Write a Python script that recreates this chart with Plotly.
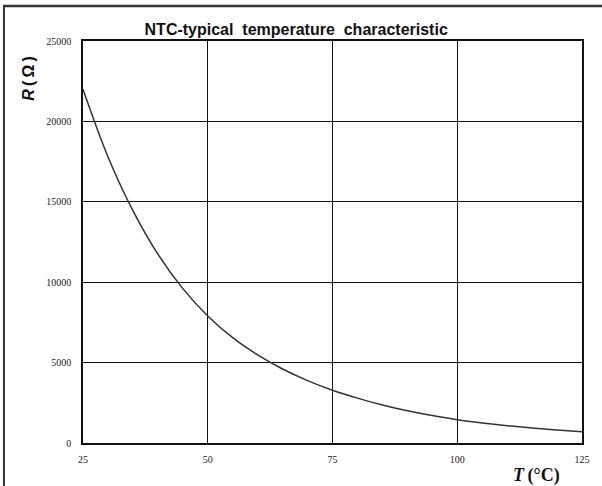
import plotly.graph_objects as go

temperature_c = [25, 30, 35, 40, 45, 50, 55, 60, 65, 70, 75, 80, 85, 90, 95,
                 100, 105, 110, 115, 120, 125]
resistance_ohm = [22000, 17800, 14450, 11750, 9600, 7900, 6550, 5480, 4600, 3880,
                  3280, 2790, 2360, 2000, 1705, 1450, 1250, 1080, 935, 810, 705]

x_ticks = [25, 50, 75, 100, 125]
y_ticks = [0, 5000, 10000, 15000, 20000, 25000]
y_tick_labels = ["0", "5000", "10000", "15000", "20000", "25000"]
x_tick_labels = ["25", "50", "75", "100", "125"]

W, H = 602, 486
L, R, T, B = 83, 17, 41, 43
PW, PH = W - L - R, H - T - B


def px(x):
    return (x - L) / PW


def py(y):
    return (H - B - y) / PH


fig = go.Figure()
fig.add_trace(go.Scatter(
    x=temperature_c, y=resistance_ohm, mode="lines",
    line=dict(color="#333333", width=1.5, shape="spline", smoothing=1.0),
    showlegend=False, hoverinfo="skip",
))

axis_common = dict(
    showgrid=True, gridcolor="#111111", gridwidth=1.4,
    showline=True, linecolor="#111111", linewidth=1.6, mirror=True,
    zeroline=False, ticks="",
    tickfont=dict(family="Liberation Serif", size=10, color="#222222"),
)

fig.update_layout(
    width=W, height=H,
    paper_bgcolor="white", plot_bgcolor="white",
    margin=dict(l=L, r=R, t=T, b=B),
    title=dict(text="<b>NTC-typical  temperature  characteristic</b>",
               x=0.492, xanchor="center", y=(H - 29) / H, yanchor="middle",
               font=dict(family="Liberation Sans", size=16, color="#111111")),
    xaxis=dict(range=[25, 125], tickvals=x_ticks, ticktext=x_tick_labels,
               ticklabelstandoff=6, **axis_common),
    yaxis=dict(range=[0, 25000], tickvals=y_ticks, ticktext=y_tick_labels,
               ticklabelstandoff=8, **axis_common),
    annotations=[
        dict(text="<b><i>R</i>\u2009(\u2009Ω\u2009)</b>", xref="paper", yref="paper",
             x=px(28.5), y=py(78), xanchor="center", yanchor="middle",
             textangle=-90, showarrow=False,
             font=dict(family="Liberation Sans", size=16, color="#111111")),
        dict(text="<b><i>T</i>\u2009(°C)</b>", xref="paper", yref="paper",
             x=px(539), y=py(476), xanchor="center", yanchor="middle",
             showarrow=False,
             font=dict(family="Liberation Serif", size=18, color="#111111")),
    ],
    shapes=[
        dict(type="line", xref="paper", yref="paper", layer="above",
             x0=px(3), x1=px(700), y0=py(6), y1=py(6),
             line=dict(color="#333333", width=2.5)),
        dict(type="line", xref="paper", yref="paper", layer="above",
             x0=px(3.5), x1=px(3.5), y0=py(5), y1=py(520),
             line=dict(color="#333333", width=2)),
    ],
)

fig.write_html("out.html", config={"displayModeBar": False},
               post_script="document.body.style.margin='0px';")
